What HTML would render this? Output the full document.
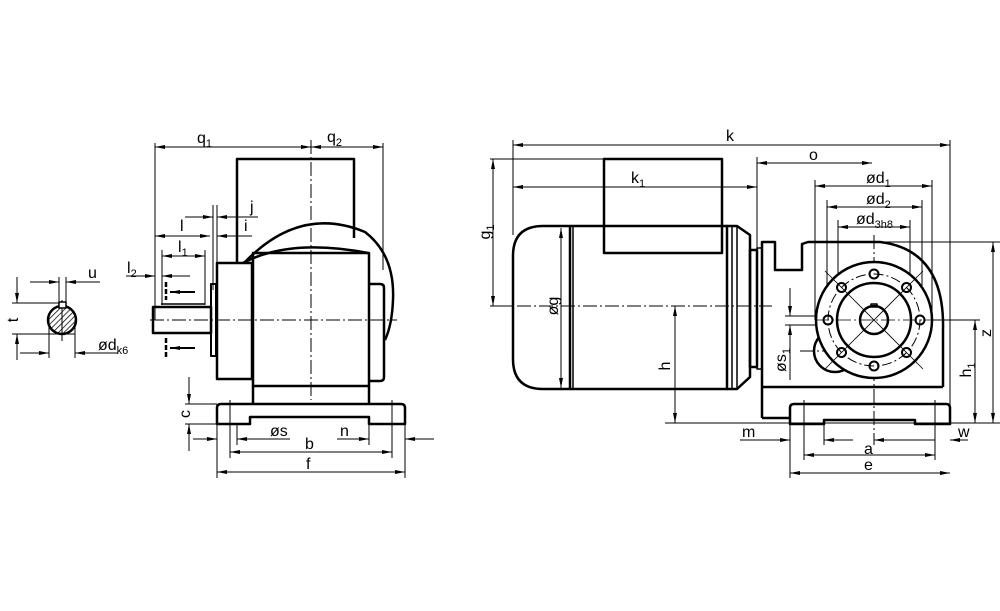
<!DOCTYPE html>
<html><head><meta charset="utf-8"><style>
html,body{margin:0;padding:0;background:#fff}
svg{display:block}
text{font-family:"Liberation Sans",sans-serif;fill:#000}
</style></head><body>
<svg width="1000" height="611" viewBox="0 0 1000 611" xmlns="http://www.w3.org/2000/svg">
<defs>
<marker id="a" viewBox="0 0 10 4" refX="10" refY="2" markerWidth="10" markerHeight="4" orient="auto-start-reverse" markerUnits="userSpaceOnUse"><path d="M0,0L10,2L0,4z" fill="#000"/></marker>
<pattern id="h" width="4" height="4" patternUnits="userSpaceOnUse" patternTransform="rotate(45)"><line x1="0" y1="0" x2="0" y2="4" stroke="#000" stroke-width="1.5"/></pattern>
</defs>
<g fill="none" stroke="#000" stroke-width="1">
<line x1="155" y1="143" x2="155" y2="320"/><line x1="383" y1="143" x2="383" y2="270"/>
<line x1="155" y1="147" x2="311" y2="147" marker-start="url(#a)" marker-end="url(#a)"/>
<line x1="311" y1="147" x2="383" y2="147" marker-start="url(#a)" marker-end="url(#a)"/>
<line x1="311" y1="140" x2="311" y2="400" stroke-dasharray="14,3,2,3"/>
<line x1="150" y1="320" x2="397" y2="320" stroke-dasharray="14,3,2,3"/>
<line x1="213" y1="205" x2="213" y2="290"/><line x1="217" y1="205" x2="217" y2="290"/>
<line x1="185" y1="217" x2="213" y2="217" marker-end="url(#a)"/><line x1="258" y1="217" x2="217" y2="217" marker-end="url(#a)"/>
<line x1="155" y1="236" x2="210" y2="236" marker-start="url(#a)" marker-end="url(#a)"/>
<line x1="252" y1="236" x2="217" y2="236" marker-end="url(#a)"/>
<line x1="162" y1="256" x2="205" y2="256" marker-start="url(#a)" marker-end="url(#a)"/>
<line x1="162" y1="250" x2="162" y2="305"/><line x1="205" y1="250" x2="205" y2="305"/>
<line x1="126" y1="276" x2="155" y2="276" marker-end="url(#a)"/><line x1="190" y1="276" x2="162" y2="276" marker-end="url(#a)"/>
<line x1="195" y1="292" x2="170" y2="292" marker-end="url(#a)" stroke-width="2"/>
<line x1="195" y1="348" x2="170" y2="348" marker-end="url(#a)" stroke-width="2"/>
<line x1="166" y1="282" x2="166" y2="300" stroke-width="2.5" stroke-dasharray="5,2"/>
<line x1="166" y1="338" x2="166" y2="358" stroke-width="2.5" stroke-dasharray="5,2"/>
<line x1="30" y1="282" x2="59" y2="282" marker-end="url(#a)"/><line x1="100" y1="282" x2="66" y2="282" marker-end="url(#a)"/>
<line x1="59" y1="277" x2="59" y2="305"/><line x1="66" y1="277" x2="66" y2="305"/>
<line x1="12" y1="303" x2="62" y2="303"/><line x1="12" y1="334" x2="75" y2="334"/>
<line x1="17" y1="277" x2="17" y2="303" marker-end="url(#a)"/><line x1="17" y1="360" x2="17" y2="334" marker-end="url(#a)"/>
<line x1="49" y1="320" x2="49" y2="358"/><line x1="75" y1="320" x2="75" y2="358"/>
<line x1="20" y1="353" x2="49" y2="353" marker-end="url(#a)"/><line x1="118" y1="353" x2="75" y2="353" marker-end="url(#a)"/>
<line x1="62" y1="300" x2="62" y2="341"/>
<line x1="185" y1="404" x2="217" y2="404"/><line x1="185" y1="424" x2="217" y2="424"/>
<line x1="189" y1="377" x2="189" y2="404" marker-end="url(#a)"/><line x1="189" y1="451" x2="189" y2="424" marker-end="url(#a)"/>
<line x1="217" y1="424" x2="217" y2="478"/><line x1="405" y1="424" x2="405" y2="478"/>
<line x1="230" y1="400" x2="230" y2="458"/><line x1="392" y1="400" x2="392" y2="458"/>
<line x1="237" y1="424" x2="237" y2="445"/><line x1="369" y1="420" x2="369" y2="445"/>
<line x1="193" y1="439" x2="217" y2="439" marker-end="url(#a)"/><line x1="290" y1="439" x2="237" y2="439" marker-end="url(#a)"/>
<line x1="337" y1="439" x2="369" y2="439" marker-end="url(#a)"/><line x1="434" y1="439" x2="405" y2="439" marker-end="url(#a)"/>
<line x1="230" y1="452" x2="392" y2="452" marker-start="url(#a)" marker-end="url(#a)"/>
<line x1="217" y1="472" x2="405" y2="472" marker-start="url(#a)" marker-end="url(#a)"/>
<line x1="230" y1="402" x2="230" y2="422" stroke-dasharray="4,2"/><line x1="392" y1="402" x2="392" y2="422" stroke-dasharray="4,2"/>

<line x1="513" y1="140" x2="513" y2="235"/><line x1="950" y1="140" x2="950" y2="420"/>
<line x1="513" y1="145" x2="950" y2="145" marker-start="url(#a)" marker-end="url(#a)"/>
<line x1="490" y1="159" x2="604" y2="159"/><line x1="490" y1="306" x2="513" y2="306"/>
<line x1="493" y1="159" x2="493" y2="306" marker-start="url(#a)" marker-end="url(#a)"/>
<line x1="513" y1="187" x2="757" y2="187" marker-start="url(#a)" marker-end="url(#a)"/>
<line x1="757" y1="157" x2="757" y2="250"/>
<line x1="757" y1="163" x2="872" y2="163" marker-start="url(#a)" marker-end="url(#a)"/>
<line x1="815" y1="180" x2="815" y2="320"/><line x1="932" y1="180" x2="932" y2="320"/>
<line x1="827" y1="200" x2="827" y2="320"/><line x1="922" y1="200" x2="922" y2="320"/>
<line x1="838" y1="220" x2="838" y2="320"/><line x1="910" y1="220" x2="910" y2="320"/>
<line x1="815" y1="186" x2="932" y2="186" marker-start="url(#a)" marker-end="url(#a)"/>
<line x1="827" y1="207" x2="922" y2="207" marker-start="url(#a)" marker-end="url(#a)"/>
<line x1="838" y1="227" x2="910" y2="227" marker-start="url(#a)" marker-end="url(#a)"/>
<line x1="517" y1="306" x2="772" y2="306" stroke-dasharray="14,3,2,3"/>
<line x1="561" y1="228" x2="561" y2="388" marker-start="url(#a)" marker-end="url(#a)"/>
<line x1="675" y1="306" x2="675" y2="423" marker-start="url(#a)" marker-end="url(#a)"/>
<line x1="665" y1="423" x2="1000" y2="423"/>
<line x1="875" y1="242" x2="1000" y2="242"/><line x1="930" y1="320" x2="980" y2="320"/>
<line x1="993" y1="242" x2="993" y2="423" marker-start="url(#a)" marker-end="url(#a)"/>
<line x1="975" y1="320" x2="975" y2="423" marker-start="url(#a)" marker-end="url(#a)"/>
<line x1="874" y1="235" x2="874" y2="445" stroke-dasharray="14,3,2,3"/>
<line x1="790" y1="288" x2="790" y2="316" marker-end="url(#a)"/><line x1="790" y1="380" x2="790" y2="325" marker-end="url(#a)"/>
<line x1="785" y1="316" x2="828" y2="316"/><line x1="785" y1="325" x2="828" y2="325"/>
<line x1="790" y1="424" x2="790" y2="478"/><line x1="804" y1="400" x2="804" y2="460"/><line x1="935" y1="400" x2="935" y2="460"/>
<line x1="824" y1="424" x2="824" y2="445"/>
<line x1="740" y1="440" x2="790" y2="440" marker-end="url(#a)"/><line x1="853" y1="440" x2="824" y2="440" marker-end="url(#a)"/>
<line x1="874" y1="440" x2="935" y2="440" marker-start="url(#a)"/>
<line x1="968" y1="440" x2="950" y2="440" marker-end="url(#a)"/>
<line x1="804" y1="455" x2="935" y2="455" marker-start="url(#a)" marker-end="url(#a)"/>
<line x1="790" y1="473" x2="950" y2="473" marker-start="url(#a)" marker-end="url(#a)"/>
<line x1="804" y1="402" x2="804" y2="422" stroke-dasharray="4,2"/><line x1="935" y1="402" x2="935" y2="422" stroke-dasharray="4,2"/>
<line x1="800" y1="351" x2="865" y2="351" stroke-dasharray="14,3,2,3"/>
</g>

<g fill="none" stroke="#000" stroke-width="2.5" stroke-linejoin="round">
<polyline points="237,262 237,159 354,159 354,238"/>
<rect x="217" y="263" width="35" height="116"/>
<path d="M243,263 Q290,238 368,253"/>
<path d="M245,262 Q300,205 365,232 Q395,255 393,300 Q392,325 385,340"/>
<rect x="253" y="253" width="116" height="133"/>
<path d="M369,284 H380 Q384,284 384,288 V377 Q384,381 380,381 H369"/>
<line x1="253" y1="386" x2="253" y2="404"/><line x1="369" y1="386" x2="369" y2="404"/>
<path d="M221,404 H401 Q405,404 405,408 V424 H369 V417 H250 V424 H217 V408 Q217,404 221,404 Z"/>
<rect x="153" y="307" width="58" height="26"/>
<rect x="211" y="284" width="5" height="72" stroke-width="2"/>
<line x1="161" y1="304" x2="205" y2="304" stroke-width="1.5"/>
<circle cx="62" cy="320" r="14" fill="url(#h)"/>
<rect x="59" y="302" width="7" height="6" fill="#fff" stroke-width="1.5"/>

<path d="M543,226 H727 V389 H543 Q513,389 513,359 V256 Q513,226 543,226 Z"/>
<line x1="570" y1="226" x2="570" y2="389"/><line x1="573" y1="226" x2="573" y2="389" stroke-width="1.5"/>
<rect x="604" y="159" width="118" height="94"/>
<path d="M727,226 H737 L750,235 V377 L737,389 H727"/>
<line x1="732" y1="226" x2="732" y2="389" stroke-width="1.5"/><line x1="737" y1="226" x2="737" y2="389" stroke-width="1.5"/>
<rect x="750" y="250" width="7" height="117"/>
<rect x="757" y="248" width="5" height="121" stroke-width="1.5"/>
<path d="M762,418 V242 H775 V270 H802 V244 L808,242 H880 Q945,250 943,330 V387"/>
<line x1="762" y1="387" x2="943" y2="387"/>
<line x1="762" y1="418" x2="790" y2="418"/>
<path d="M794,404 H946 Q950,404 950,408 V424 H915 V420 H824 V424 H790 V408 Q790,404 794,404 Z"/>
<circle cx="835" cy="351" r="21"/>
<circle cx="874" cy="320" r="58" fill="#fff"/>
<circle cx="874" cy="320" r="46" stroke-width="1" stroke-dasharray="10,3,2,3"/>
<circle cx="874" cy="320" r="37"/>
<circle cx="874" cy="320" r="14"/>
<rect x="871" y="304" width="6" height="3" stroke-width="1.5"/>
<g stroke-width="2">
<circle cx="874" cy="274" r="4.5"/><circle cx="874" cy="366" r="4.5"/>
<circle cx="828" cy="320" r="4.5"/><circle cx="920" cy="320" r="4.5"/>
<circle cx="841.5" cy="287.5" r="4.5"/><circle cx="906.5" cy="287.5" r="4.5"/>
<circle cx="841.5" cy="352.5" r="4.5"/><circle cx="906.5" cy="352.5" r="4.5"/>
</g>
</g>
<g stroke="#000" stroke-width="0.8">
<line x1="825" y1="271" x2="923" y2="369"/><line x1="923" y1="271" x2="825" y2="369"/>
<line x1="815" y1="320" x2="932" y2="320" stroke-dasharray="14,3,2,3"/>
</g>

<g font-size="16">
<text x="197" y="143">q<tspan font-size="11" dy="4">1</tspan></text>
<text x="327" y="142">q<tspan font-size="11" dy="4">2</tspan></text>
<text x="250" y="212">j</text>
<text x="244" y="231">i</text>
<text x="180" y="231">l</text>
<text x="178" y="252">l<tspan font-size="11" dy="4">1</tspan></text>
<text x="127" y="273">l<tspan font-size="11" dy="4">2</tspan></text>
<text x="88" y="278">u</text>
<text x="14" y="324" transform="rotate(-90 14 320)" text-anchor="middle">t</text>
<text x="98" y="350">ød<tspan font-size="11" dy="4">k6</tspan></text>
<text x="186" y="418" transform="rotate(-90 186 414)" text-anchor="middle">c</text>
<text x="270" y="436">øs</text>
<text x="305" y="449">b</text>
<text x="340" y="436">n</text>
<text x="306" y="469">f</text>
<text x="726" y="141">k</text>
<text x="631" y="183">k<tspan font-size="11" dy="4">1</tspan></text>
<text x="809" y="160">o</text>
<text x="866" y="183">ød<tspan font-size="11" dy="4">1</tspan></text>
<text x="866" y="204">ød<tspan font-size="11" dy="4">2</tspan></text>
<text x="856" y="224">ød<tspan font-size="11" dy="4">3h8</tspan></text>
<text x="490" y="232" transform="rotate(-90 490 232)" text-anchor="middle">g<tspan font-size="11" dy="4">1</tspan></text>
<text x="558" y="306" transform="rotate(-90 558 306)" text-anchor="middle">øg</text>
<text x="670" y="366" transform="rotate(-90 670 366)" text-anchor="middle">h</text>
<text x="786" y="360" transform="rotate(-90 786 360)" text-anchor="middle">øs<tspan font-size="11" dy="4">1</tspan></text>
<text x="991" y="333" transform="rotate(-90 991 333)" text-anchor="middle">z</text>
<text x="971" y="370" transform="rotate(-90 971 370)" text-anchor="middle">h<tspan font-size="11" dy="4">1</tspan></text>
<text x="742" y="437">m</text>
<text x="958" y="437">w</text>
<text x="864" y="454">a</text>
<text x="864" y="470">e</text>
</g>
</svg>
</body></html>
